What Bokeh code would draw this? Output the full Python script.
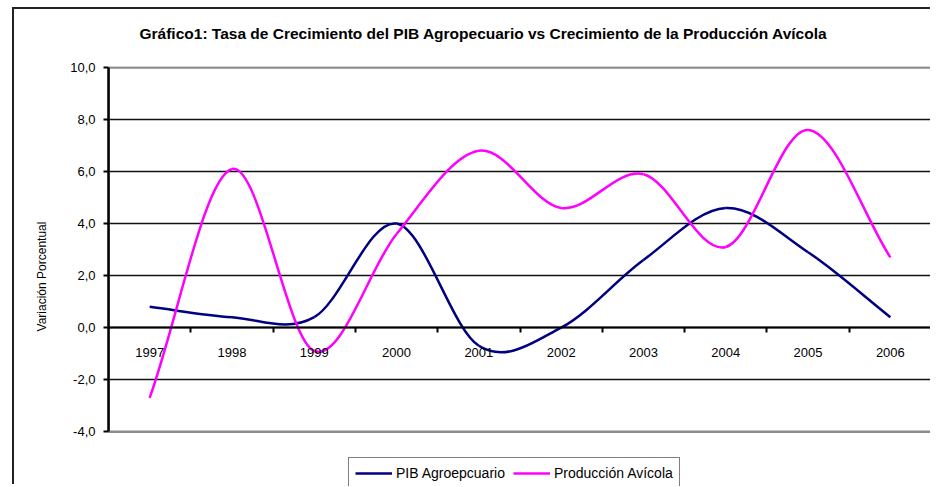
from bokeh.plotting import figure
from bokeh.models import (ColumnDataSource, LinearAxis, FixedTicker, Range1d,
                          Legend, LegendItem, BoxAnnotation)
from bokeh.embed import file_html
from bokeh.resources import INLINE

# ---- data ----
years = ["1997", "1998", "1999", "2000", "2001", "2002", "2003", "2004", "2005", "2006"]
pib_agropecuario = [0.8, 0.4, 0.4, 4.0, -0.7, 0.0, 2.6, 4.6, 2.9, 0.4]
produccion_avicola = [-2.7, 6.1, -0.9, 3.6, 6.8, 4.6, 5.9, 3.1, 7.6, 2.7]
y_ticks = [-4, -2, 0, 2, 4, 6, 8, 10]
y_tick_labels = ["-4,0", "-2,0", "0,0", "2,0", "4,0", "6,0", "8,0", "10,0"]

title_text = ("Gráfico1: Tasa de Crecimiento del PIB Agropecuario vs "
              "Crecimiento de la Producción Avícola")
FONT = "Liberation Sans"


def smooth_source(vals):
    """Bezier segments (Catmull-Rom style smoothing, like a smoothed line chart)."""
    n = len(vals)
    xs = list(range(n))
    m = []
    for i in range(n):
        if i == 0:
            m.append(vals[1] - vals[0])
        elif i == n - 1:
            m.append(vals[-1] - vals[-2])
        else:
            m.append((vals[i + 1] - vals[i - 1]) / 2.0)
    d = dict(x0=[], y0=[], x1=[], y1=[], cx0=[], cy0=[], cx1=[], cy1=[])
    for i in range(n - 1):
        d["x0"].append(xs[i]); d["y0"].append(vals[i])
        d["x1"].append(xs[i + 1]); d["y1"].append(vals[i + 1])
        d["cx0"].append(xs[i] + 1 / 3); d["cy0"].append(vals[i] + m[i] / 3)
        d["cx1"].append(xs[i + 1] - 1 / 3); d["cy1"].append(vals[i + 1] - m[i + 1] / 3)
    return ColumnDataSource(d)


n = len(years)
p = figure(width=918, height=477,
           x_range=Range1d(-0.5, 9.512), y_range=Range1d(-6.11, 10.04),
           x_axis_location=None, output_backend="svg", toolbar_location=None,
           min_border_left=94, min_border_right=0, min_border_top=57, min_border_bottom=0)

p.styles = {"margin-left": "12px", "margin-top": "7px",
            "border-left": "2px solid #222", "border-top": "2px solid #222"}

p.background_fill_color = "white"
p.border_fill_color = "white"
p.outline_line_color = None

# title (an empty second line lifts it towards the top of the chart area)
p.title.text = title_text + "\n"
p.title.text_font = FONT
p.title.text_font_size = "15.5px"
p.title.text_font_style = "bold"
p.title.text_color = "black"
p.title.align = "left"
p.title.vertical_align = "bottom"
p.title.offset = 31
p.title.standoff = 16

# y axis
yax = p.yaxis[0]
yax.ticker = FixedTicker(ticks=y_ticks)
yax.bounds = (y_ticks[0], y_ticks[-1])
yax.major_label_overrides = {t: l for t, l in zip(y_ticks, y_tick_labels)}
yax.major_label_text_font = FONT
yax.major_label_text_font_size = "13px"
yax.major_label_text_color = "black"
yax.major_tick_out = 5
yax.major_tick_in = 0
yax.major_tick_line_width = 2
yax.major_tick_line_color = "black"
yax.minor_tick_out = 0
yax.minor_tick_in = 0
yax.axis_line_width = 2.5
yax.axis_line_color = "black"
yax.major_label_standoff = 8
yax.axis_label = "Variación Porcentual"
yax.axis_label_text_font = FONT
yax.axis_label_text_font_size = "12px"
yax.axis_label_text_font_style = "normal"
yax.axis_label_text_color = "black"
yax.axis_label_standoff = 18

# grid
p.xgrid.visible = False
p.ygrid.ticker = FixedTicker(ticks=y_ticks[1:-1])
p.ygrid.grid_line_color = "#111111"
p.ygrid.grid_line_width = 1.5

# plot-area border (grey)
plot_area = BoxAnnotation(left=-0.5, right=n - 0.5, bottom=y_ticks[0], top=y_ticks[-1],
                          fill_color=None, fill_alpha=0,
                          line_color="#8c8c8c", line_alpha=1, line_width=2.5,
                          level="glyph")
p.add_layout(plot_area)

# x axis at y = 0: boundary ticks
boundaries = [i + 0.5 for i in range(n)]
xax_ticks = LinearAxis(ticker=FixedTicker(ticks=boundaries),
                       bounds=(-0.5, n - 0.5),
                       major_label_overrides={b: "" for b in boundaries},
                       major_tick_out=5, major_tick_in=0, major_tick_line_width=2,
                       major_tick_line_color="black",
                       minor_tick_out=0, minor_tick_in=0,
                       axis_line_width=2, axis_line_color="black",
                       fixed_location=0)
p.add_layout(xax_ticks, "below")

# x axis at y = 0: category labels
xax_labels = LinearAxis(ticker=FixedTicker(ticks=list(range(n))),
                        major_label_overrides={i: y for i, y in enumerate(years)},
                        major_tick_out=0, major_tick_in=0,
                        minor_tick_out=0, minor_tick_in=0,
                        axis_line_color=None,
                        major_label_standoff=20,
                        major_label_text_font=FONT,
                        major_label_text_font_size="13px",
                        major_label_text_color="black",
                        fixed_location=0)
p.add_layout(xax_labels, "below")

# series
r_pib = p.bezier(x0="x0", y0="y0", x1="x1", y1="y1", cx0="cx0", cy0="cy0",
                 cx1="cx1", cy1="cy1", source=smooth_source(pib_agropecuario),
                 line_color="#000080", line_width=2.5)
r_avi = p.bezier(x0="x0", y0="y0", x1="x1", y1="y1", cx0="cx0", cy0="cy0",
                 cx1="cx1", cy1="cy1", source=smooth_source(produccion_avicola),
                 line_color="#FF00FF", line_width=2.5)

legend = Legend(items=[LegendItem(label="PIB Agroepcuario", renderers=[r_pib]),
                       LegendItem(label="Producción Avícola", renderers=[r_avi])],
                orientation="horizontal", location=(240, -3),
                border_line_color="black", border_line_width=1,
                background_fill_color="white", background_fill_alpha=1,
                label_text_font=FONT, label_text_font_size="14px",
                label_text_color="black",
                glyph_width=37, glyph_height=18, label_height=18,
                label_standoff=4, spacing=8, padding=6, margin=0)
p.add_layout(legend, "center")

open("out.html", "w").write(file_html(p, INLINE))
